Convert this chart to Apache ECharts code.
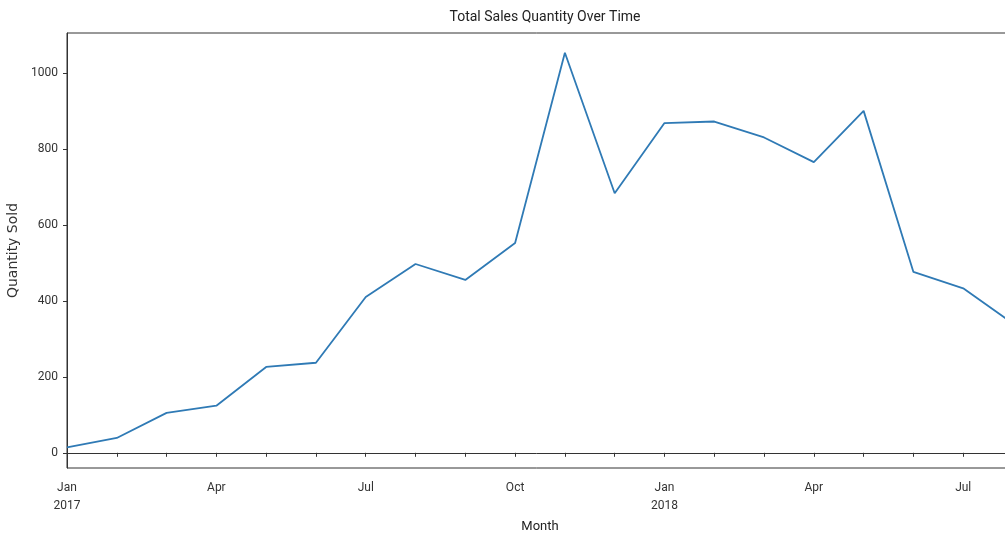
<!DOCTYPE html>
<html>
<head>
<meta charset="utf-8">
<script src="https://cdn.jsdelivr.net/npm/echarts@6/dist/echarts.min.js"></script>
<style>
html,body{margin:0;padding:0;background:#fff;}
#chart{width:1005px;height:535px;}
</style>
</head>
<body>
<div id="chart"></div>
<script>
var months = ['2017-01','2017-02','2017-03','2017-04','2017-05','2017-06','2017-07','2017-08','2017-09','2017-10','2017-11','2017-12',
              '2018-01','2018-02','2018-03','2018-04','2018-05','2018-06','2018-07','2018-08'];
var quantity = [14, 39, 105, 124, 226, 237, 410, 497, 455, 552, 1053, 683,
                868, 872, 830, 765, 900, 476, 433, 340];
var monthNames = ['Jan','Feb','Mar','Apr','May','Jun','Jul','Aug','Sep','Oct','Nov','Dec'];
var titleText = 'Total Sales Quantity Over Time';
var xTitle = 'Month';
var yTitle = 'Quantity Sold';

var chart = echarts.init(document.getElementById('chart'), null, {renderer: 'canvas'});
var axisColor = '#333';
chart.setOption({
  animation: false,
  backgroundColor: '#fff',
  title: {
    text: titleText,
    left: 540, top: 5,
    textAlign: 'center',
    textStyle: {fontFamily: 'Roboto', fontSize: 14, fontWeight: 'normal', color: '#222'}
  },
  grid: {left: 67, top: 33, bottom: 67, right: -8, outerBoundsMode: 'none', containLabel: false,
         show: true, borderColor: axisColor, borderWidth: 1, backgroundColor: 'transparent'},
  xAxis: {
    type: 'category',
    data: months,
    boundaryGap: false,
    name: xTitle,
    nameLocation: 'middle',
    nameGap: 52,
    nameTextStyle: {fontFamily: 'Roboto', fontSize: 13, color: '#222'},
    axisLine: {lineStyle: {color: axisColor, width: 1}},
    axisTick: {show: true, interval: 0, length: 4, lineStyle: {color: axisColor}},
    axisLabel: {
      interval: 0, margin: 11, lineHeight: 18,
      fontFamily: 'Roboto', fontSize: 12, color: '#333',
      formatter: function (v) {
        var y = v.slice(0, 4), m = parseInt(v.slice(5), 10) - 1;
        if (m % 3 !== 0) return '';
        return m === 0 ? monthNames[m] + '\n' + y : monthNames[m];
      }
    },
    splitLine: {show: false}
  },
  yAxis: {
    type: 'value',
    min: -40, max: 1105,
    splitNumber: 5,
    name: yTitle,
    nameLocation: 'middle',
    nameGap: 41,
    nameTextStyle: {fontFamily: 'DejaVu Sans', fontSize: 14, color: '#333'},
    axisLine: {show: true, lineStyle: {color: axisColor, width: 1}},
    axisTick: {show: true, length: 4, lineStyle: {color: axisColor}},
    axisLabel: {margin: 9, fontFamily: 'Roboto', fontSize: 12, color: '#333',
                showMinLabel: false, showMaxLabel: false,
                formatter: function (v) { return String(v); }},
    splitLine: {show: false}
  },
  series: [{
    type: 'line',
    data: quantity,
    showSymbol: false,
    symbol: 'none',
    lineStyle: {color: '#2f7ab5', width: 1.8},
    clip: true
  }]
});
</script>
</body>
</html>
